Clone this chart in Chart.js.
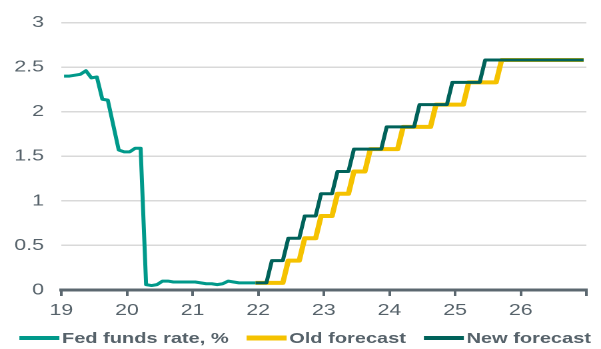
<!DOCTYPE html>
<html>
<head>
<meta charset="utf-8">
<script src="https://cdn.jsdelivr.net/npm/chart.js@4.4.1/dist/chart.umd.min.js"></script>
<style>
  html, body { margin: 0; padding: 0; background: #fff; overflow: hidden; }
  /* chart is laid out narrow and widened horizontally */
  #wrap {
    position: absolute; left: 0; top: 0;
    width: 451px; height: 349px;
    transform: scaleX(1.3326); transform-origin: 0 0;
  }
</style>
</head>
<body>
<div id="wrap"><canvas id="c"></canvas></div>
<script>
// x axis: two-digit years
const xTickValues = [19, 20, 21, 22, 23, 24, 25, 26, 27];
const xTickLabels = ['19', '20', '21', '22', '23', '24', '25', '26', ''];
// y axis: percent
const yTickValues = [0, 0.5, 1, 1.5, 2, 2.5, 3];
const yTickLabels = ['0', '0.5', '1', '1.5', '2', '2.5', '3'];

const seriesNames = ['Fed funds rate, %', 'Old forecast', 'New forecast'];

// monthly effective fed funds rate, Jan 2019 - Dec 2021
const fedFundsStart = [2019, 0];
const fedFundsRate = [
  2.40, 2.40, 2.41, 2.42, 2.46, 2.38, 2.39, 2.14, 2.13, 1.85, 1.57, 1.55,
  1.55, 1.59, 1.59, 0.06, 0.05, 0.06, 0.10, 0.10, 0.09, 0.09, 0.09, 0.09,
  0.09, 0.08, 0.07, 0.07, 0.06, 0.07, 0.10, 0.09, 0.08, 0.08, 0.08, 0.08
];

// monthly forecast paths, Dec 2021 - Dec 2026
const forecastStart = [2021, 11];
const oldForecast = [
  0.08,
  0.08, 0.08, 0.08, 0.08, 0.08, 0.33, 0.33, 0.33, 0.58, 0.58, 0.58, 0.83,
  0.83, 0.83, 1.08, 1.08, 1.08, 1.33, 1.33, 1.33, 1.58, 1.58, 1.58, 1.58,
  1.58, 1.58, 1.83, 1.83, 1.83, 1.83, 1.83, 1.83, 2.08, 2.08, 2.08, 2.08,
  2.08, 2.08, 2.33, 2.33, 2.33, 2.33, 2.33, 2.33, 2.58, 2.58, 2.58, 2.58,
  2.58, 2.58, 2.58, 2.58, 2.58, 2.58, 2.58, 2.58, 2.58, 2.58, 2.58, 2.58
];
const newForecast = [
  0.08,
  0.08, 0.08, 0.33, 0.33, 0.33, 0.58, 0.58, 0.58, 0.83, 0.83, 0.83, 1.08,
  1.08, 1.08, 1.33, 1.33, 1.33, 1.58, 1.58, 1.58, 1.58, 1.58, 1.58, 1.83,
  1.83, 1.83, 1.83, 1.83, 1.83, 2.08, 2.08, 2.08, 2.08, 2.08, 2.08, 2.33,
  2.33, 2.33, 2.33, 2.33, 2.33, 2.58, 2.58, 2.58, 2.58, 2.58, 2.58, 2.58,
  2.58, 2.58, 2.58, 2.58, 2.58, 2.58, 2.58, 2.58, 2.58, 2.58, 2.58, 2.58
];

const TEAL = '#00998a';
const YELLOW = '#f5c200';
const GREEN = '#00625a';
const TEXT = '#56626a';
const AXIS = '#5c6870';
const GRID = '#d9d9d9';
const FONT = '"Liberation Sans", Arial, sans-serif';

// place each monthly value at mid-month on the year axis
function toPoints(start, values) {
  const [year, month] = start;
  return values.map((v, i) => ({ x: (year - 2000) + (month + i + 0.5) / 12, y: v }));
}

// single-row legend below the axis: short line then bold label
const legendRow = {
  id: 'legendRow',
  afterDraw(chart) {
    const ctx = chart.ctx;
    const lineLen = 30, gap = 2, itemGap = 13.5, cy = 338, cx = 229;
    ctx.save();
    ctx.font = 'bold 15px ' + FONT;
    ctx.textBaseline = 'middle';
    ctx.textAlign = 'left';
    const items = chart.data.datasets.map(ds => ({
      text: ds.label, color: ds.borderColor, lw: ds.borderWidth + 1,
      w: ctx.measureText(ds.label).width
    }));
    const total = items.reduce((s, it) => s + lineLen + gap + it.w, 0) + itemGap * (items.length - 1);
    let x = cx - total / 2;
    items.forEach(it => {
      ctx.strokeStyle = it.color;
      ctx.lineWidth = it.lw;
      ctx.lineCap = 'butt';
      ctx.beginPath();
      ctx.moveTo(x, cy);
      ctx.lineTo(x + lineLen, cy);
      ctx.stroke();
      x += lineLen + gap;
      ctx.fillStyle = TEXT;
      ctx.fillText(it.text, x, cy + 1);
      x += it.w + itemGap;
    });
    ctx.restore();
  }
};

new Chart(document.getElementById('c'), {
  type: 'line',
  data: {
    datasets: [
      { label: seriesNames[0], data: toPoints(fedFundsStart, fedFundsRate), borderColor: TEAL, borderWidth: 3, order: 2 },
      { label: seriesNames[1], data: toPoints(forecastStart, oldForecast), borderColor: YELLOW, borderWidth: 4, order: 1 },
      { label: seriesNames[2], data: toPoints(forecastStart, newForecast), borderColor: GREEN, borderWidth: 3, order: 0 }
    ]
  },
  options: {
    responsive: true,
    maintainAspectRatio: false,
    animation: false,
    devicePixelRatio: 2,
    layout: { padding: { top: 22, right: 11, left: 0, bottom: 0 } },
    elements: {
      point: { radius: 0, hoverRadius: 0 },
      line: { tension: 0, fill: false, borderJoinStyle: 'round', borderCapStyle: 'butt' }
    },
    plugins: { legend: { display: false }, tooltip: { enabled: false } },
    scales: {
      x: {
        type: 'linear',
        min: xTickValues[0],
        max: xTickValues[xTickValues.length - 1],
        afterFit(scale) { scale.height = 59; },
        afterBuildTicks(scale) { scale.ticks = xTickValues.map(v => ({ value: v })); },
        ticks: {
          autoSkip: false, maxRotation: 0, padding: 5, color: TEXT,
          font: { family: FONT, size: 16 },
          callback: (v, i) => xTickLabels[i] ?? ''
        },
        grid: { drawOnChartArea: false, drawTicks: true, tickLength: 6, color: AXIS, lineWidth: 2 },
        border: { display: true, color: AXIS, width: 3 }
      },
      y: {
        min: yTickValues[0],
        max: yTickValues[yTickValues.length - 1],
        afterFit(scale) { scale.width = 46; },
        afterBuildTicks(scale) { scale.ticks = yTickValues.map(v => ({ value: v })); },
        ticks: {
          padding: 13, color: TEXT, font: { family: FONT, size: 16 },
          callback: (v, i) => yTickLabels[i] ?? ''
        },
        grid: { color: GRID, lineWidth: 1.5, drawTicks: false },
        border: { display: false }
      }
    }
  },
  plugins: [legendRow]
});
</script>
</body>
</html>
